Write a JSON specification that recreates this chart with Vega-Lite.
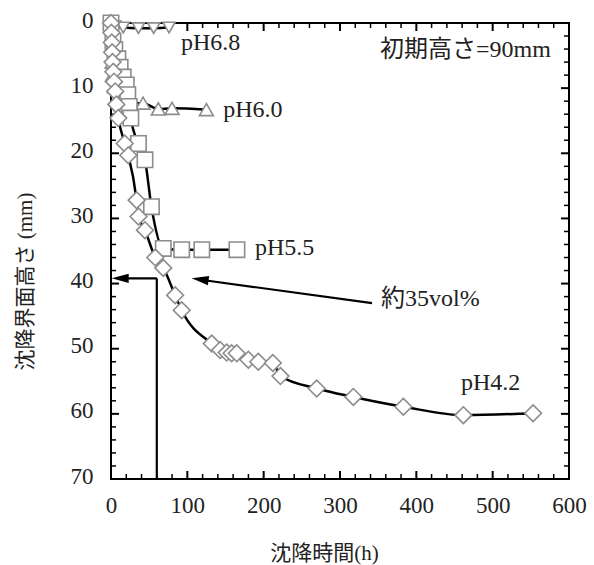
{
  "$schema": "https://vega.github.io/schema/vega-lite/v6.json",
  "width": 458,
  "height": 456,
  "autosize": {"type": "none"},
  "padding": {"left": 111, "top": 23, "right": 25, "bottom": 86},
  "background": "white",
  "config": {
    "view": {"stroke": "black", "strokeWidth": 2},
    "axis": {"grid": false, "domain": false, "labelFlush": false, "labelOverlap": false}
  },
  "datasets": {
    "pts": [
      {"s": "pH6.8", "t": 0, "h": 0},
      {"s": "pH6.8", "t": 5, "h": 0.5},
      {"s": "pH6.8", "t": 16, "h": 0.7},
      {"s": "pH6.8", "t": 36, "h": 0.8},
      {"s": "pH6.8", "t": 56, "h": 0.8},
      {"s": "pH6.8", "t": 76, "h": 0.7},
      {"s": "pH6.0", "t": 0, "h": 0},
      {"s": "pH6.0", "t": 0.5, "h": 2},
      {"s": "pH6.0", "t": 1, "h": 3.5},
      {"s": "pH6.0", "t": 1.5, "h": 6},
      {"s": "pH6.0", "t": 2, "h": 8},
      {"s": "pH6.0", "t": 5, "h": 9.8},
      {"s": "pH6.0", "t": 12, "h": 12.0},
      {"s": "pH6.0", "t": 25, "h": 12.3},
      {"s": "pH6.0", "t": 42, "h": 12.3},
      {"s": "pH6.0", "t": 62, "h": 13.2},
      {"s": "pH6.0", "t": 80, "h": 13.1},
      {"s": "pH6.0", "t": 125, "h": 13.3},
      {"s": "pH5.5", "t": 0, "h": 0},
      {"s": "pH5.5", "t": 2.6, "h": 2.8},
      {"s": "pH5.5", "t": 5, "h": 4.1},
      {"s": "pH5.5", "t": 9, "h": 5.5},
      {"s": "pH5.5", "t": 12, "h": 6.8},
      {"s": "pH5.5", "t": 16, "h": 8.3},
      {"s": "pH5.5", "t": 20, "h": 9.5},
      {"s": "pH5.5", "t": 22, "h": 11},
      {"s": "pH5.5", "t": 24, "h": 12.8},
      {"s": "pH5.5", "t": 26, "h": 14.6},
      {"s": "pH5.5", "t": 36, "h": 18.5},
      {"s": "pH5.5", "t": 44.5, "h": 21},
      {"s": "pH5.5", "t": 53, "h": 28.2},
      {"s": "pH5.5", "t": 68.5, "h": 34.6},
      {"s": "pH5.5", "t": 92.6, "h": 34.8},
      {"s": "pH5.5", "t": 119, "h": 34.8},
      {"s": "pH5.5", "t": 165, "h": 34.8},
      {"s": "pH4.2", "t": 0, "h": 0},
      {"s": "pH4.2", "t": 0.5, "h": 1.5},
      {"s": "pH4.2", "t": 1, "h": 3},
      {"s": "pH4.2", "t": 1.5, "h": 4.5},
      {"s": "pH4.2", "t": 2, "h": 6},
      {"s": "pH4.2", "t": 3, "h": 7.5},
      {"s": "pH4.2", "t": 4, "h": 9},
      {"s": "pH4.2", "t": 5.5, "h": 10.5},
      {"s": "pH4.2", "t": 7, "h": 12.5},
      {"s": "pH4.2", "t": 9.6, "h": 14.6},
      {"s": "pH4.2", "t": 18, "h": 18.5},
      {"s": "pH4.2", "t": 22.7, "h": 20.3},
      {"s": "pH4.2", "t": 33.6, "h": 27.2},
      {"s": "pH4.2", "t": 36, "h": 29.7},
      {"s": "pH4.2", "t": 44.5, "h": 31.8},
      {"s": "pH4.2", "t": 58, "h": 36},
      {"s": "pH4.2", "t": 68.5, "h": 37.6},
      {"s": "pH4.2", "t": 84, "h": 41.8},
      {"s": "pH4.2", "t": 92.6, "h": 44.1},
      {"s": "pH4.2", "t": 132, "h": 49.2},
      {"s": "pH4.2", "t": 143, "h": 50.2},
      {"s": "pH4.2", "t": 151.6, "h": 50.6},
      {"s": "pH4.2", "t": 158, "h": 50.7},
      {"s": "pH4.2", "t": 164.7, "h": 50.7},
      {"s": "pH4.2", "t": 180, "h": 51.7},
      {"s": "pH4.2", "t": 193, "h": 52},
      {"s": "pH4.2", "t": 212, "h": 52.2},
      {"s": "pH4.2", "t": 222, "h": 54.2},
      {"s": "pH4.2", "t": 269.5, "h": 56.1},
      {"s": "pH4.2", "t": 317.5, "h": 57.4},
      {"s": "pH4.2", "t": 383, "h": 58.9},
      {"s": "pH4.2", "t": 461.6, "h": 60.2},
      {"s": "pH4.2", "t": 553, "h": 59.9}
    ],
    "lab": [
      {"label": "pH6.8", "t": 91.7, "h": 3.1},
      {"label": "pH6.0", "t": 147, "h": 13.4},
      {"label": "pH5.5", "t": 188.7, "h": 34.6},
      {"label": "約35vol%", "t": 353.7, "h": 42.4},
      {"label": "pH4.2", "t": 458.5, "h": 55.3},
      {"label": "初期高さ=90mm", "t": 352.4, "h": 4.1}
    ],
    "ann": [
      {"t": 60, "h": 39.2, "t2": 60, "h2": 70},
      {"t": 60, "h": 39.2, "t2": 15, "h2": 39.2},
      {"t": 342, "h": 43.0, "t2": 120, "h2": 39.45}
    ],
    "heads": [
      {"t": 0.9, "h": 39.2, "a": 0},
      {"t": 105.7, "h": 39.2, "a": 7.8}
    ],
    "xmaj": [{"t": 100}, {"t": 200}, {"t": 300}, {"t": 400}, {"t": 500}],
    "xmin": [
      {"t": 20}, {"t": 40}, {"t": 60}, {"t": 80}, {"t": 120}, {"t": 140}, {"t": 160}, {"t": 180},
      {"t": 220}, {"t": 240}, {"t": 260}, {"t": 280}, {"t": 320}, {"t": 340}, {"t": 360}, {"t": 380},
      {"t": 420}, {"t": 440}, {"t": 460}, {"t": 480}, {"t": 520}, {"t": 540}, {"t": 560}, {"t": 580}
    ],
    "ymaj": [{"h": 10}, {"h": 20}, {"h": 30}, {"h": 40}, {"h": 50}, {"h": 60}],
    "ymin": [
      {"h": 2}, {"h": 4}, {"h": 6}, {"h": 8}, {"h": 12}, {"h": 14}, {"h": 16}, {"h": 18},
      {"h": 22}, {"h": 24}, {"h": 26}, {"h": 28}, {"h": 32}, {"h": 34}, {"h": 36}, {"h": 38},
      {"h": 42}, {"h": 44}, {"h": 46}, {"h": 48}, {"h": 52}, {"h": 54}, {"h": 56}, {"h": 58},
      {"h": 62}, {"h": 64}, {"h": 66}, {"h": 68}
    ]
  },
  "resolve": {"axis": {"x": "independent", "y": "independent"}},
  "layer": [
    {
      "data": {"name": "pts"},
      "mark": {"type": "line", "color": "black", "strokeWidth": 2.5, "interpolate": "monotone"},
      "encoding": {
        "x": {"field": "t", "type": "quantitative", "scale": {"domain": [0, 600], "nice": false, "zero": false},
          "axis": {"orient": "bottom", "values": [0, 100, 200, 300, 400, 500, 600], "ticks": false, "labelPadding": 15,
            "labelFont": "Liberation Serif", "labelFontSize": 23, "labelColor": "#222",
            "title": "沈降時間(h)", "titleFont": "Liberation Serif, Noto Sans CJK JP", "titleFontSize": 21, "titleFontWeight": "normal",
            "titleColor": "#222", "titleX": 213, "titleY": 74, "titleBaseline": "middle", "titleAlign": "center"}},
        "y": {"field": "h", "type": "quantitative", "scale": {"domain": [0, 70], "nice": false, "zero": false, "reverse": true},
          "axis": {"orient": "left", "values": [0, 10, 20, 30, 40, 50, 60, 70], "ticks": false, "labelPadding": 18,
            "labelFont": "Liberation Serif", "labelFontSize": 23, "labelColor": "#222", "labelBaseline": "middle", "labelOffset": -3,
            "title": "沈降界面高さ (mm)", "titleFont": "Liberation Serif, Noto Sans CJK JP", "titleFontSize": 21, "titleFontWeight": "normal",
            "titleColor": "#222", "titleAngle": -90, "titleX": -86, "titleY": 258, "titleBaseline": "middle", "titleAlign": "center"}},
        "detail": {"field": "s"}
      }
    },
    {
      "data": {"name": "xmaj"},
      "mark": {"type": "rule", "color": "black", "strokeWidth": 2},
      "encoding": {
        "x": {"field": "t", "type": "quantitative", "scale": {"domain": [0, 600], "nice": false, "zero": false}, "axis": null},
        "y": {"datum": 70, "type": "quantitative", "scale": {"domain": [0, 70], "nice": false, "zero": false, "reverse": true}, "axis": null},
        "y2": {"datum": 68.77}
      }
    },
    {
      "data": {"name": "xmaj"},
      "mark": {"type": "rule", "color": "black", "strokeWidth": 2},
      "encoding": {
        "x": {"field": "t", "type": "quantitative", "scale": {"domain": [0, 600], "nice": false, "zero": false}, "axis": null},
        "y": {"datum": 0, "type": "quantitative", "scale": {"domain": [0, 70], "nice": false, "zero": false, "reverse": true}, "axis": null},
        "y2": {"datum": 1.23}
      }
    },
    {
      "data": {"name": "xmin"},
      "mark": {"type": "rule", "color": "black", "strokeWidth": 1.5},
      "encoding": {
        "x": {"field": "t", "type": "quantitative", "scale": {"domain": [0, 600], "nice": false, "zero": false}, "axis": null},
        "y": {"datum": 70, "type": "quantitative", "scale": {"domain": [0, 70], "nice": false, "zero": false, "reverse": true}, "axis": null},
        "y2": {"datum": 69.23}
      }
    },
    {
      "data": {"name": "xmin"},
      "mark": {"type": "rule", "color": "black", "strokeWidth": 1.5},
      "encoding": {
        "x": {"field": "t", "type": "quantitative", "scale": {"domain": [0, 600], "nice": false, "zero": false}, "axis": null},
        "y": {"datum": 0, "type": "quantitative", "scale": {"domain": [0, 70], "nice": false, "zero": false, "reverse": true}, "axis": null},
        "y2": {"datum": 0.77}
      }
    },
    {
      "data": {"name": "ymaj"},
      "mark": {"type": "rule", "color": "black", "strokeWidth": 2},
      "encoding": {
        "x": {"datum": 0, "type": "quantitative", "scale": {"domain": [0, 600], "nice": false, "zero": false}, "axis": null},
        "x2": {"datum": 10.5},
        "y": {"field": "h", "type": "quantitative", "scale": {"domain": [0, 70], "nice": false, "zero": false, "reverse": true}, "axis": null}
      }
    },
    {
      "data": {"name": "ymaj"},
      "mark": {"type": "rule", "color": "black", "strokeWidth": 2},
      "encoding": {
        "x": {"datum": 600, "type": "quantitative", "scale": {"domain": [0, 600], "nice": false, "zero": false}, "axis": null},
        "x2": {"datum": 589.5},
        "y": {"field": "h", "type": "quantitative", "scale": {"domain": [0, 70], "nice": false, "zero": false, "reverse": true}, "axis": null}
      }
    },
    {
      "data": {"name": "ymin"},
      "mark": {"type": "rule", "color": "black", "strokeWidth": 1.5},
      "encoding": {
        "x": {"datum": 0, "type": "quantitative", "scale": {"domain": [0, 600], "nice": false, "zero": false}, "axis": null},
        "x2": {"datum": 6.5},
        "y": {"field": "h", "type": "quantitative", "scale": {"domain": [0, 70], "nice": false, "zero": false, "reverse": true}, "axis": null}
      }
    },
    {
      "data": {"name": "ymin"},
      "mark": {"type": "rule", "color": "black", "strokeWidth": 1.5},
      "encoding": {
        "x": {"datum": 600, "type": "quantitative", "scale": {"domain": [0, 600], "nice": false, "zero": false}, "axis": null},
        "x2": {"datum": 593.5},
        "y": {"field": "h", "type": "quantitative", "scale": {"domain": [0, 70], "nice": false, "zero": false, "reverse": true}, "axis": null}
      }
    },
    {
      "data": {"name": "pts"},
      "mark": {"type": "point", "filled": true, "fill": "white", "stroke": "#8c8c8c", "strokeWidth": 1.6, "opacity": 1},
      "encoding": {
        "x": {"field": "t", "type": "quantitative", "scale": {"domain": [0, 600], "nice": false, "zero": false}, "axis": null},
        "y": {"field": "h", "type": "quantitative", "scale": {"domain": [0, 70], "nice": false, "zero": false, "reverse": true}, "axis": null},
        "shape": {"field": "s", "type": "nominal", "scale": {"domain": ["pH4.2", "pH5.5", "pH6.0", "pH6.8"], "range": ["diamond", "square", "triangle-up", "triangle-down"]}, "legend": null},
        "size": {"field": "s", "type": "ordinal", "scale": {"domain": ["pH4.2", "pH5.5", "pH6.0", "pH6.8"], "range": [280, 150, 200, 200]}, "legend": null}
      }
    },
    {
      "data": {"name": "lab"},
      "mark": {"type": "text", "align": "left", "baseline": "middle", "font": "Liberation Serif, Noto Sans CJK JP", "fontSize": 24, "color": "#222"},
      "encoding": {
        "x": {"field": "t", "type": "quantitative", "scale": {"domain": [0, 600], "nice": false, "zero": false}, "axis": null},
        "y": {"field": "h", "type": "quantitative", "scale": {"domain": [0, 70], "nice": false, "zero": false, "reverse": true}, "axis": null},
        "text": {"field": "label"}
      }
    },
    {
      "data": {"name": "ann"},
      "mark": {"type": "rule", "color": "black", "strokeWidth": 2.2},
      "encoding": {
        "x": {"field": "t", "type": "quantitative", "scale": {"domain": [0, 600], "nice": false, "zero": false}, "axis": null},
        "y": {"field": "h", "type": "quantitative", "scale": {"domain": [0, 70], "nice": false, "zero": false, "reverse": true}, "axis": null},
        "x2": {"field": "t2"},
        "y2": {"field": "h2"}
      }
    },
    {
      "data": {"name": "heads"},
      "mark": {"type": "point", "shape": "M0,0L2,-0.55L2,0.55Z", "filled": true, "color": "black", "opacity": 1, "size": 289},
      "encoding": {
        "x": {"field": "t", "type": "quantitative", "scale": {"domain": [0, 600], "nice": false, "zero": false}, "axis": null},
        "y": {"field": "h", "type": "quantitative", "scale": {"domain": [0, 70], "nice": false, "zero": false, "reverse": true}, "axis": null},
        "angle": {"field": "a", "type": "quantitative", "scale": null}
      }
    }
  ]
}
